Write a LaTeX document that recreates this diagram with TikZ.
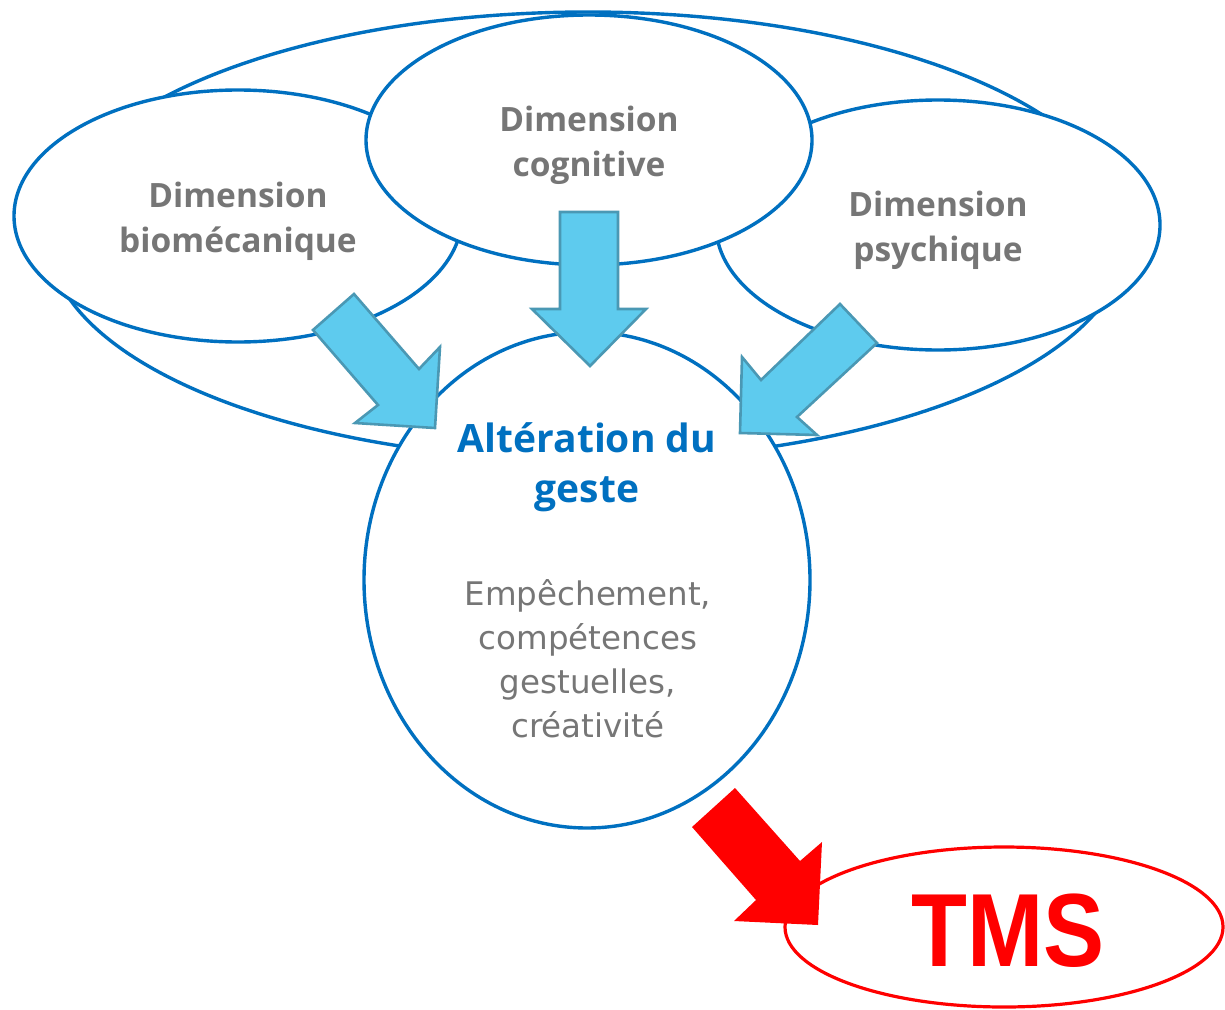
\documentclass[tikz,border=0pt]{standalone}
\usepackage{fontspec}
\setmainfont{Open Sans}
\newfontfamily\tmsfont{Liberation Sans}
\newfontfamily\bodyfont{DejaVu Sans}
\usetikzlibrary{shapes.geometric}
\definecolor{eblue}{RGB}{0,112,192}
\definecolor{tgray}{RGB}{118,118,118}
\definecolor{afill}{RGB}{94,203,238}
\definecolor{aline}{RGB}{74,152,180}
\definecolor{tred}{RGB}{255,0,0}
\begin{document}
\begin{tikzpicture}[x=1pt,y=-1pt,
  ell/.style={ellipse, draw=eblue, line width=3.4pt, fill=white, inner sep=0pt},
  dimtext/.style={text=tgray, font=\fontsize{33.5}{45}\selectfont\bfseries, align=center},
  barrow/.style={fill=afill, draw=aline, line width=2.6pt, line join=miter},
  redarrow/.style={fill=tred, draw=none},
]
\useasboundingbox (0,0) rectangle (1225,1009);
\node[ell, minimum width=1080pt, minimum height=448pt] (outer) at (588,236) {};
\node[ell, minimum width=448pt, minimum height=252pt] (bio) at (238,216) {};
\node[ell, minimum width=444pt, minimum height=250pt] (psy) at (938,225) {};
\node[ell, minimum width=446pt, minimum height=250pt] (cog) at (589,140) {};
\node[ell, minimum width=446pt, minimum height=496pt] (alt) at (587,580) {};
\node[ellipse, draw=tred, line width=3.2pt, fill=white, inner sep=0pt, minimum width=438pt, minimum height=160pt] (tms) at (1004,927) {};
\node[dimtext] (biotext) at ([yshift=-5pt]bio.center) {Dimension\\biomécanique};
\node[dimtext] (psytext) at ([yshift=-5pt]psy.center) {Dimension\\psychique};
\node[dimtext] (cogtext) at ([yshift=-5pt]cog.center) {Dimension\\cognitive};
\node[text=eblue, font=\fontsize{39}{50}\selectfont\bfseries, align=center] (alttitle) at (587,467) {Altération du\\geste};
\node[text=tgray, font=\bodyfont\fontsize{32.5}{44}\selectfont, align=center] (altbody) at (588,659) {Empêchement,\\compétences\\gestuelles,\\créativité};
\node[text=tred, font=\tmsfont\fontsize{104}{104}\selectfont\bfseries, xscale=0.88, inner sep=0pt] (tmstext) at (1008,931) {TMS};
% block arrows
\draw[barrow] (313,330) -- (354,294) -- (419,369) -- (440,347) -- (435,428) -- (355,423) -- (378,405) -- cycle;
\draw[barrow] (560,212) -- (618,212) -- (618,309) -- (646,309) -- (590,366) -- (532,309) -- (560,309) -- cycle;
\draw[barrow] (840,304) -- (877,343) -- (797,417) -- (817,435) -- (740,433) -- (742,357) -- (761,380) -- cycle;
\fill[redarrow] (735,788) -- (692,827) -- (756,900) -- (734,921) -- (818,925) -- (822,842) -- (800,861) -- cycle;
\end{tikzpicture}
\end{document}
